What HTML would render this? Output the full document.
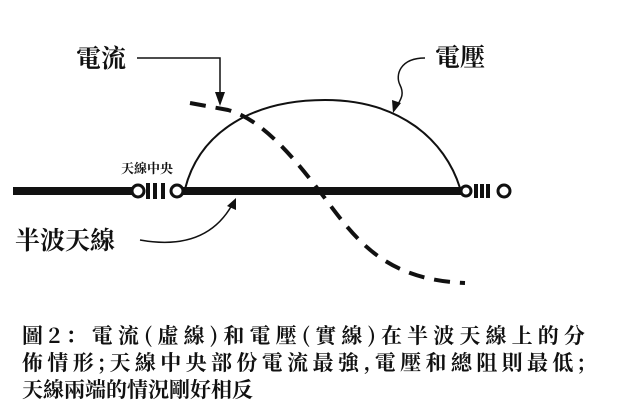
<!DOCTYPE html>
<html><head><meta charset="utf-8"><style>
body{margin:0;background:#fff;width:620px;height:411px;overflow:hidden;position:relative;font-family:"Liberation Serif","Noto Serif CJK SC","Noto Sans CJK TC",serif;}
.t{position:absolute;font-weight:bold;color:#111;white-space:nowrap;}
.cap{position:absolute;left:22px;font-family:"Noto Serif CJK SC","Noto Sans CJK TC",serif;font-weight:bold;font-size:21px;line-height:26px;color:#111;white-space:nowrap;display:flex;justify-content:space-between;}
</style></head><body>
<svg width="620" height="411" style="position:absolute;left:0;top:0">
<line x1="13" y1="191" x2="132" y2="191" stroke="#111" stroke-width="8"/>
<line x1="183" y1="191" x2="461" y2="191" stroke="#111" stroke-width="8"/>
<g fill="#fff" stroke="#111" stroke-width="3">
<circle cx="138" cy="191" r="6"/><circle cx="177" cy="191" r="6"/>
<circle cx="466" cy="191" r="5"/><circle cx="504" cy="191" r="6"/>
</g>
<g stroke="#111" stroke-width="4">
<line x1="148" y1="183" x2="148" y2="199"/><line x1="155" y1="183" x2="155" y2="199"/><line x1="163" y1="183" x2="163" y2="199"/>
<line x1="476" y1="184" x2="476" y2="198"/><line x1="482" y1="184" x2="482" y2="198"/><line x1="488" y1="184" x2="488" y2="198"/>
</g>
<path d="M185,189 C200,130 255,100 325,100 C400,100 445,140 460,188" fill="none" stroke="#111" stroke-width="2"/>
<path d="M190,103 L228,110 C265,120 300,165 330,205 C360,245 390,280 465,283" fill="none" stroke="#111" stroke-width="4" stroke-dasharray="16,10"/>
<path d="M137,58 L220,58 L220,101" fill="none" stroke="#111" stroke-width="1.5"/>
<path d="M215,92 L225,92 L220,106 Z" fill="#111"/>
<path d="M425,58 C400,58 395,75 400,85 C405,95 400,100 397,106" fill="none" stroke="#111" stroke-width="1.5"/>
<path d="M392,100 L401,103 L393,113 Z" fill="#111"/>
<path d="M140,240 C185,248 215,235 232,205" fill="none" stroke="#111" stroke-width="1.5"/>
<path d="M227,206 L236,210 L236,198 Z" fill="#111"/>
</svg>
<div class="t" style="left:76px;top:39px;font-size:25px;">電流</div>
<div class="t" style="left:435px;top:38px;font-size:25px;">電壓</div>
<div class="t" style="left:121px;top:158px;font-size:13px;">天線中央</div>
<div class="t" style="left:15px;top:221px;font-size:25px;">半波天線</div>
<div class="cap" style="top:322px;width:563px;"><span>圖</span><span>2</span><span>：</span><span>電</span><span>流</span><span>(</span><span>虛</span><span>線</span><span>)</span><span>和</span><span>電</span><span>壓</span><span>(</span><span>實</span><span>線</span><span>)</span><span>在</span><span>半</span><span>波</span><span>天</span><span>線</span><span>上</span><span>的</span><span>分</span></div>
<div class="cap" style="top:349px;width:563px;"><span>佈</span><span>情</span><span>形</span><span>;</span><span>天</span><span>線</span><span>中</span><span>央</span><span>部</span><span>份</span><span>電</span><span>流</span><span>最</span><span>強</span><span>,</span><span>電</span><span>壓</span><span>和</span><span>總</span><span>阻</span><span>則</span><span>最</span><span>低</span><span>;</span></div>
<div class="cap" style="top:376px;">天線兩端的情況剛好相反</div>
</body></html>
